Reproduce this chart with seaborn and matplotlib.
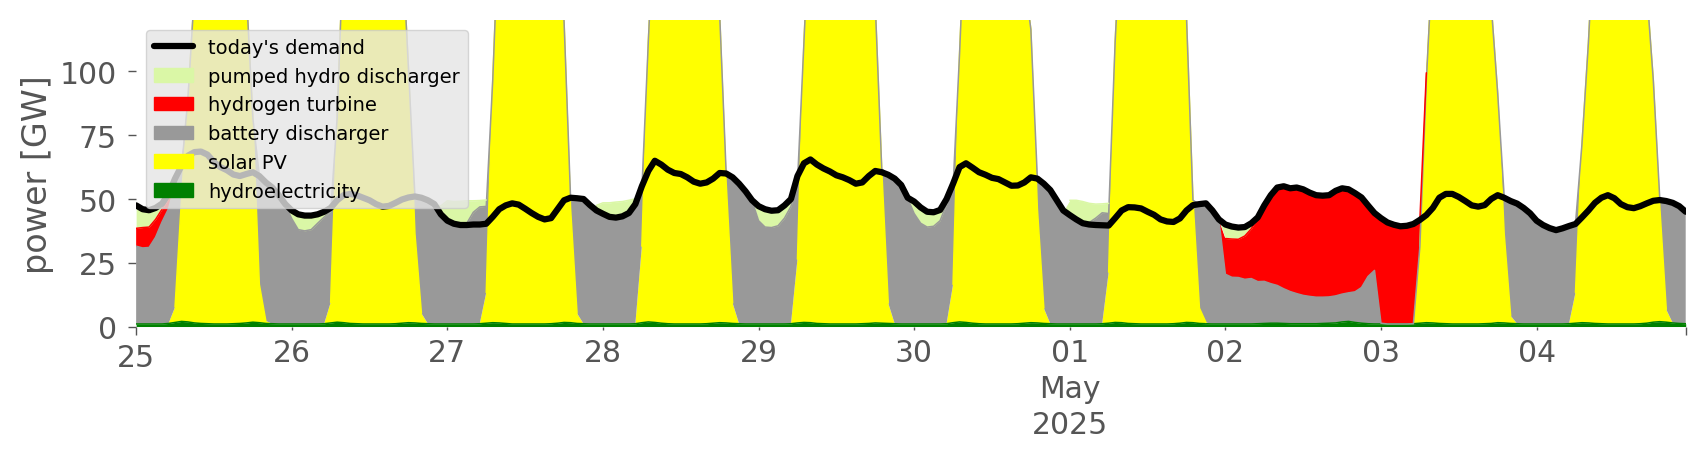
import numpy as np
import pandas as pd
import matplotlib
matplotlib.use("Agg")
import matplotlib.pyplot as plt
from matplotlib.patches import Patch
from matplotlib.lines import Line2D
import seaborn as sns

# hourly values, 25 Apr 2025 00:00 -> 4 May 2025 23:00 [GW]
demand = [
    47.5, 46.0, 45.6, 46.5, 48.2, 52.0, 58.0, 63.0, 67.0, 68.4, 68.6, 67.4, 64.5, 62.5, 61.3, 59.6, 59.0, 59.8, 60.5, 59.0, 56.5, 54.5, 51.5, 48.0,  # 25
    45.5, 44.0, 43.5, 43.5, 44.0, 45.0, 46.5, 49.5, 51.5, 52.0, 51.5, 50.5, 49.5, 48.0, 47.0, 47.3, 48.5, 49.8, 50.6, 51.0, 50.5, 49.5, 48.0, 44.0,  # 26
    41.5, 40.3, 39.8, 39.8, 40.0, 40.0, 40.3, 43.0, 46.0, 47.5, 48.3, 47.8, 46.2, 44.5, 43.0, 42.0, 42.5, 46.0, 49.5, 50.5, 50.3, 50.0, 47.6, 45.5,  # 27
    44.2, 43.0, 42.7, 43.2, 44.5, 48.0, 55.0, 61.0, 65.0, 63.5, 61.5, 60.2, 59.8, 58.5, 56.8, 56.0, 56.5, 58.0, 60.2, 60.0, 58.5, 56.0, 53.0, 49.5,  # 28
    47.2, 46.0, 45.4, 45.6, 47.5, 50.0, 59.0, 64.0, 65.5, 63.5, 62.0, 60.8, 59.3, 58.5, 57.4, 56.0, 56.5, 59.0, 61.0, 60.5, 59.5, 58.0, 55.5, 50.5,  # 29
    49.0, 46.7, 45.0, 44.8, 45.7, 50.0, 56.0, 62.5, 64.0, 62.3, 60.5, 59.5, 58.3, 57.8, 56.5, 55.2, 55.3, 56.5, 58.5, 58.0, 56.0, 53.5, 49.5, 45.5,  # 30
    43.7, 42.0, 40.5, 40.0, 39.8, 39.7, 39.6, 42.5, 45.5, 46.8, 46.7, 46.3, 45.0, 43.8, 42.0, 41.2, 41.0, 42.4, 45.5, 47.6, 48.0, 48.3, 45.5, 42.0,  # 01
    40.0, 39.2, 38.8, 39.0, 40.5, 42.8, 47.5, 51.5, 54.5, 55.0, 54.2, 54.5, 53.8, 52.5, 51.5, 51.3, 51.5, 53.2, 54.2, 53.8, 52.3, 50.6, 47.5, 44.5,  # 02
    42.5, 40.8, 39.9, 39.3, 39.5, 40.2, 41.8, 43.7, 46.5, 50.5, 52.0, 52.0, 50.8, 49.2, 47.5, 47.0, 47.6, 50.0, 51.5, 50.5, 49.2, 48.2, 46.5, 44.4,  # 03
    41.5, 39.8, 38.6, 37.8, 38.5, 39.4, 40.2, 42.8, 45.5, 48.5, 50.5, 51.5, 50.3, 48.0, 46.8, 46.4, 47.2, 48.3, 49.3, 49.6, 49.2, 48.5, 47.2, 45.0,  # 04
]

hydro = [
    1.0, 1.0, 1.0, 1.0, 1.0, 1.2, 1.6, 2.0, 1.8, 1.4, 1.2, 1.1, 1.0, 1.0, 1.0, 1.1, 1.2, 1.4, 1.7, 1.5, 1.2, 1.1, 1.0, 1.0,
    1.0, 1.0, 1.0, 1.0, 1.0, 1.1, 1.4, 1.7, 1.5, 1.2, 1.1, 1.0, 1.0, 1.0, 1.0, 1.0, 1.1, 1.3, 1.5, 1.4, 1.2, 1.1, 1.0, 1.0,
    1.0, 1.0, 1.0, 1.0, 1.0, 1.1, 1.3, 1.5, 1.4, 1.2, 1.0, 1.0, 1.0, 1.0, 1.0, 1.0, 1.1, 1.3, 1.6, 1.5, 1.2, 1.1, 1.0, 1.0,
    1.0, 1.0, 1.0, 1.0, 1.0, 1.1, 1.5, 1.8, 1.6, 1.3, 1.1, 1.0, 1.0, 1.0, 1.0, 1.0, 1.1, 1.3, 1.5, 1.4, 1.2, 1.1, 1.0, 1.0,
    1.0, 1.0, 1.0, 1.0, 1.0, 1.1, 1.4, 1.6, 1.5, 1.2, 1.1, 1.0, 1.0, 1.0, 1.0, 1.0, 1.1, 1.2, 1.4, 1.3, 1.2, 1.1, 1.0, 1.0,
    1.0, 1.0, 1.0, 1.0, 1.0, 1.1, 1.5, 1.8, 1.6, 1.3, 1.1, 1.0, 1.0, 1.0, 1.0, 1.0, 1.1, 1.3, 1.5, 1.4, 1.2, 1.1, 1.0, 1.0,
    1.0, 1.0, 1.0, 1.0, 1.0, 1.1, 1.3, 1.6, 1.5, 1.2, 1.1, 1.0, 1.0, 1.0, 1.0, 1.0, 1.1, 1.3, 1.6, 1.5, 1.2, 1.1, 1.0, 1.0,
    1.0, 1.0, 1.0, 1.0, 1.0, 1.1, 1.2, 1.3, 1.3, 1.2, 1.1, 1.1, 1.1, 1.1, 1.1, 1.2, 1.3, 1.4, 1.8, 2.0, 1.6, 1.3, 1.1, 1.0,
    1.0, 1.0, 1.0, 1.0, 1.0, 1.1, 1.3, 1.5, 1.4, 1.2, 1.1, 1.0, 1.0, 1.0, 1.0, 1.0, 1.1, 1.2, 1.5, 1.4, 1.2, 1.1, 1.0, 1.0,
    1.0, 1.0, 1.0, 1.0, 1.0, 1.1, 1.3, 1.5, 1.4, 1.2, 1.1, 1.0, 1.0, 1.0, 1.0, 1.0, 1.1, 1.3, 1.7, 1.9, 1.7, 1.4, 1.2, 1.1,
]

solar = [
    0, 0, 0, 0, 0, 0, 6, 48, 88, 130, 152, 166, 174, 176, 172, 163, 150, 130, 80, 15, 1, 0, 0, 0,
    0, 0, 0, 0, 0, 0, 8, 80, 150, 168, 178, 184, 186, 183, 176, 166, 158, 150, 100, 35, 4, 0, 0, 0,
    0, 0, 0, 0, 0, 0, 12, 95, 160, 174, 182, 186, 185, 180, 172, 163, 156, 150, 118, 45, 4, 0, 0, 0,
    0, 0, 0, 0, 0, 0, 30, 110, 165, 178, 184, 187, 186, 180, 172, 164, 156, 150, 121, 55, 8, 0, 0, 0,
    0, 0, 0, 0, 0, 0, 25, 110, 165, 177, 184, 187, 186, 181, 173, 164, 156, 150, 125, 60, 8, 0, 0, 0,
    0, 0, 0, 0, 0, 0, 15, 105, 165, 176, 182, 185, 184, 178, 168, 157, 146, 135, 115, 45, 6, 0, 0, 0,
    0, 0, 0, 0, 0, 0, 20, 110, 160, 172, 180, 183, 182, 176, 166, 156, 148, 140, 120, 48, 6, 0.5, 0, 0,
    0, 0, 0, 0, 0, 0, 0, 0, 0, 0, 0, 0, 0, 0, 0, 0, 0, 0, 0, 0, 0, 0, 0, 0,
    0, 0, 0, 0, 0, 0, 30, 95, 145, 162, 172, 177, 178, 172, 162, 150, 138, 125, 90, 35, 3, 0, 0, 0,
    0, 0, 0, 0, 0, 0, 12, 70, 110, 160, 172, 180, 183, 181, 174, 162, 148, 130, 95, 45, 5, 0, 0, 0,
]

battery = [
    30.5, 29.8, 30.0, 34.0, 40.0, 45.0, 48.0, 12.0, 0, 0, 0, 0, 0, 0, 0, 0, 0, 0, 0, 42.8, 54.3, 53.3, 50.3, 46.8,
    41.3, 37.0, 36.5, 37.0, 39.5, 41.8, 35.8, 0, 0, 0, 0, 0, 0, 0, 0, 0, 0, 0, 0, 14.8, 45.3, 48.3, 46.3, 42.3,
    40.3, 39.0, 38.6, 39.5, 43.8, 45.8, 33.8, 0, 0, 0, 0, 0, 0, 0, 0, 0, 0, 0, 0, 4.3, 45.0, 48.8, 46.4, 43.5,
    42.5, 41.5, 41.3, 42.0, 43.5, 46.0, 22.0, 0, 0, 0, 0, 0, 0, 0, 0, 0, 0, 0, 0, 4.0, 49.3, 54.8, 51.8, 48.3,
    40.5, 38.0, 37.8, 38.5, 41.5, 46.0, 30.0, 0, 0, 0, 0, 0, 0, 0, 0, 0, 0, 0, 0, 0.5, 50.3, 56.8, 54.3, 49.3,
    43.3, 39.5, 38.0, 38.3, 40.5, 46.8, 38.3, 0, 0, 0, 0, 0, 0, 0, 0, 0, 0, 0, 0, 11.8, 48.8, 52.3, 48.3, 44.3,
    42.5, 41.0, 40.0, 39.8, 41.5, 43.5, 23.0, 0, 0, 0, 0, 0, 0, 0, 0, 0, 0, 0, 0, 0.0, 40.8, 46.6, 44.3, 40.8,
    19.5, 18.3, 18.2, 17.5, 17.8, 16.5, 16.5, 15.5, 14.8, 13.6, 12.6, 11.8, 11.1, 10.7, 10.4, 10.3, 10.3, 10.6, 10.9, 11.2, 12.0, 14.0, 18.5, 21.0,
    0.3, 0, 0, 0, 0, 0, 0, 0, 0, 0, 0, 0, 0, 0, 0, 0, 0, 0, 0, 14.8, 44.8, 46.8, 45.3, 43.2,
    40.3, 38.6, 37.4, 36.6, 37.3, 38.2, 27.0, 0, 0, 0, 0, 0, 0, 0, 0, 0, 0, 0, 0, 3.4, 43.0, 47.3, 46.0, 43.8,
]

hydrogen = [
    7.0, 8.0, 8.0, 7.0, 5.0, 4.0, 3.0, 2.0, 0, 0, 0, 0, 0, 0, 0, 0, 0, 0, 0, 0, 0, 0, 0, 0,
    0, 0, 0, 0, 0, 0, 0, 0, 0, 0, 0, 0, 0, 0, 0, 0, 0, 0, 0, 0, 0, 0, 0, 0,
    0, 0, 0, 0, 0, 0, 0, 0, 0, 0, 0, 0, 0, 0, 0, 0, 0, 0, 0, 0, 0, 0, 0, 0,
    0, 0, 0, 0, 0, 0, 0, 0, 0, 0, 0, 0, 0, 0, 0, 0, 0, 0, 0, 0, 0, 0, 0, 0,
    0, 0, 0, 0, 0, 0, 0, 0, 0, 0, 0, 0, 0, 0, 0, 0, 0, 0, 0, 0, 0, 0, 0, 0,
    0, 0, 0, 0, 0, 0, 0, 0, 0, 0, 0, 0, 0, 0, 0, 0, 0, 0, 0, 0, 0, 0, 0, 0,
    0, 0, 0, 0, 0, 0, 0, 0, 0, 0, 0, 0, 0, 0, 0, 0, 0, 0, 0, 0, 0, 0, 0, 0,
    14.0, 15.0, 15.0, 17.0, 19.5, 25.1, 29.8, 34.8, 38.5, 40.2, 40.4, 41.5, 41.5, 40.6, 39.9, 39.8, 40.0, 41.4, 42.1, 41.4, 39.1, 34.4, 26.8, 21.8,
    41.0, 39.6, 38.7, 38.1, 38.3, 39.0, 10.6, 3.0, 0, 0, 0, 0, 0, 0, 0, 0, 0, 0, 0, 0, 0, 0, 0, 0,
    0, 0, 0, 0, 0, 0, 0, 0, 0, 0, 0, 0, 0, 0, 0, 0, 0, 0, 0, 0, 0, 0, 0, 0,
]

pumped_hydro = [
    8.0, 7.5, 7.0, 5.5, 3.0, 2.0, 1.0, 0, 0, 0, 0, 0, 0, 0, 0, 0, 0, 0, 0, 0, 0, 0, 0, 0,
    3.0, 5.8, 5.8, 5.3, 3.3, 2.0, 1.5, 0, 0, 0, 0, 0, 0, 0, 0, 0, 0, 0, 0, 0, 0, 0, 0.5, 4.0,
    8.0, 9.0, 9.5, 8.8, 4.5, 2.5, 2.5, 0, 0, 0, 0, 0, 0, 0, 0, 0, 0, 0, 0, 0, 0, 0, 0, 3.0,
    5.0, 6.0, 6.5, 6.0, 5.0, 3.0, 2.0, 0, 0, 0, 0, 0, 0, 0, 0, 0, 0, 0, 0, 0, 0, 0, 0, 0,
    5.5, 6.8, 6.4, 6.0, 4.8, 2.8, 2.8, 0, 0, 0, 0, 0, 0, 0, 0, 0, 0, 0, 0, 0, 0, 0, 0, 0,
    4.5, 6.0, 5.8, 5.3, 4.0, 2.0, 1.5, 0, 0, 0, 0, 0, 0, 0, 0, 0, 0, 0, 0, 0, 0, 0, 0, 0,
    6.0, 7.5, 8.0, 7.5, 5.5, 3.5, 4.0, 0, 0, 0, 0, 0, 0, 0, 0, 0, 0, 0, 0, 0, 0, 0, 0, 0,
    5.0, 4.5, 4.5, 3.3, 2.0, 0, 0, 0, 0, 0, 0, 0, 0, 0, 0, 0, 0, 0, 0, 0, 0, 1.0, 1.0, 0.5,
    0, 0, 0, 0, 0, 0, 0, 0, 0, 0, 0, 0, 0, 0, 0, 0, 0, 0, 0, 0, 0, 0, 0, 0,
    0, 0, 0, 0, 0, 0, 0, 0, 0, 0, 0, 0, 0, 0, 0, 0, 0, 0, 0, 0, 0, 0, 0, 0,
]

day_labels = ["26", "27", "28", "29", "30", "01\nMay\n2025", "02", "03", "04"]

times = pd.date_range("2025-04-25 00:00", periods=len(demand), freq="h")
days = pd.date_range("2025-04-26", periods=len(day_labels), freq="D")

sns.set_theme(style="white")
plt.rcParams["font.family"] = ["DejaVu Sans"]

fig = plt.figure(figsize=(17.06, 4.6), dpi=100)
ax = fig.add_axes([0.0798, 0.288, 0.9083, 0.6653])

# stacked areas, bottom to top
layers = [
    ("hydroelectricity", hydro, "#008000"),
    ("solar PV", solar, "#ffff00"),
    ("battery discharger", battery, "#999999"),
    ("hydrogen turbine", hydrogen, "#ff0000"),
    ("pumped hydro discharger", pumped_hydro, "#daf7a6"),
]
base = np.zeros(len(times))
for name, vals, col in layers:
    vals = np.asarray(vals, dtype=float)
    top = base + vals
    ax.fill_between(times, base, top, color=col, lw=0, zorder=1)
    if name in ("hydroelectricity", "battery discharger"):
        edge = top
    else:
        edge = np.where(vals > 0, top, np.nan)
    ax.plot(times, edge, color=col, lw=1.1, zorder=2)
    base = top

sns.lineplot(x=times, y=demand, color="black", lw=4.5, ax=ax, zorder=3)

ax.set_xlim(times[0], times[-1])
ax.set_ylim(0, 120)
ax.set_yticks([0, 25, 50, 75, 100])
ax.set_xticks([times[0], times[-1]])
ax.set_xticklabels(["25", ""])
ax.set_xticks(days, minor=True)
ax.set_xticklabels(day_labels, minor=True)

gray = "#555555"
ax.tick_params(axis="y", left=True, length=5.8, width=1.0, color=gray,
               labelsize=21.5, labelcolor=gray, pad=8.0)
ax.tick_params(axis="x", which="major", bottom=True, length=5.8, width=1.0,
               color=gray, labelsize=21.5, labelcolor=gray, pad=6.0)
ax.tick_params(axis="x", which="minor", bottom=True, length=2.5, width=1.0,
               color=gray, labelsize=21.5, labelcolor=gray, pad=6.0)
for lab in ax.get_xticklabels(minor=True):
    lab.set_linespacing(1.3)
ax.set_ylabel("power [GW]", fontsize=24, color=gray, labelpad=4)
ax.set_xlabel("")
sns.despine(ax=ax, left=True, bottom=True)

handles = [Line2D([], [], color="black", lw=4.5)]
names = ["today's demand"]
for name, vals, col in reversed(layers):
    handles.append(Patch(facecolor=col, edgecolor=col))
    names.append(name)
ax.legend(handles, names, loc="upper left", fontsize=14.0, facecolor="#e5e5e5",
          edgecolor="#cccccc", framealpha=0.8, fancybox=True, labelcolor="black")

fig.savefig("out.png", dpi=100)
